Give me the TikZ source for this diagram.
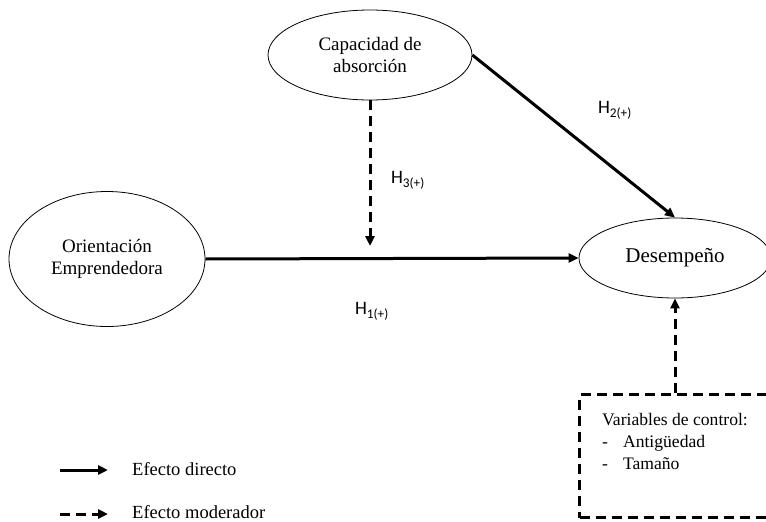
\documentclass[tikz,border=0pt]{standalone}
\usepackage{fontspec}
\setmainfont{Liberation Serif}
\newfontfamily\hypfont{Carlito}
\usetikzlibrary{shapes.geometric,arrows.meta}

\begin{document}
\begin{tikzpicture}[x=1pt,y=-1pt,
  construct/.style={draw, ellipse, line width=0.8pt, align=center, inner sep=0pt,
    font=\fontsize{19}{22}\selectfont},
  direct/.style={line width=3pt, -{Triangle[length=10pt,width=9pt]}},
  moder/.style={direct, dash pattern=on 10pt off 6pt},
  hyp/.style={font=\hypfont\fontsize{19}{22}\selectfont, inner sep=0pt},
  legendtext/.style={anchor=west, inner sep=0pt, font=\fontsize{18.5}{22}\selectfont},
  ctrlbox/.style={draw, line width=3pt, dash pattern=on 10pt off 6pt,
    minimum width=240pt, minimum height=123pt, inner sep=0pt}
]
\useasboundingbox (0,0) rectangle (766,522);
\clip (0,0) rectangle (766,522);

% constructs
\node[construct, minimum width=204pt, minimum height=90pt] (cap) at (370,55) {Capacidad de\\absorción};
\node[construct, minimum width=196pt, minimum height=135pt] (oe) at (107,259) {Orientación\\Emprendedora};
\node[construct, minimum width=192pt, minimum height=80pt,
  font=\fontsize{21}{24}\selectfont] (des) at (675,258) {Desempeño};

% control variables
\node[ctrlbox, anchor=north west] (ctrl) at (578,393) {};
\node[anchor=north west, inner sep=0pt, align=left,
  font=\fontsize{17.6}{22}\selectfont] (ctrltext) at (602,413)
  {Variables de control:\\
   -\hspace{15pt}Antigüedad\\
   -\hspace{15pt}Tamaño};

% hypotheses
\draw[direct] (oe.east) -- (des.west);
\draw[direct] (cap.east) -- (des.north);
\coordinate (h3end) at (cap.south |- 0,246);
\draw[moder] (cap.south) -- (h3end);
\draw[moder] (des.south |- ctrl.north) -- (des.south);

\node[hyp] (h1) at (372,311) {H\textsubscript{1(+)}};
\node[hyp] (h2) at (615,110) {H\textsubscript{2(+)}};
\node[hyp] (h3) at (408,180) {H\textsubscript{3(+)}};

% legend
\coordinate (l1a) at (60,470);
\coordinate (l1b) at (108,470);
\coordinate (l2a) at (60,514);
\coordinate (l2b) at (108,514);
\draw[direct] (l1a) -- (l1b);
\draw[moder] (l2a) -- (l2b);
\node[legendtext] (leg1) at (132,469) {Efecto directo};
\node[legendtext] (leg2) at (132,512) {Efecto moderador};
\end{tikzpicture}
\end{document}
